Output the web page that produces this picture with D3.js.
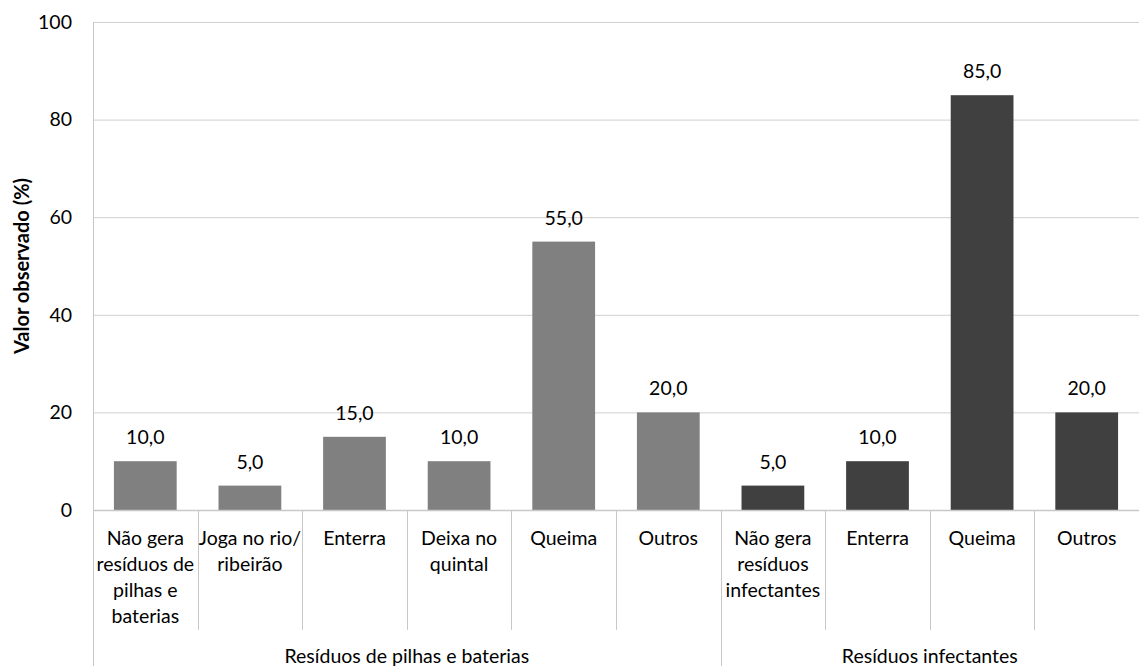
<!DOCTYPE html>
<html><head><meta charset="utf-8">
<script src="https://cdn.jsdelivr.net/npm/d3@7"></script>
<style>body{margin:0;background:#fff}svg{display:block}text{font-family:Lato,Calibri,sans-serif;fill:#000}</style>
</head><body>
<svg id="c" width="1139" height="666"></svg>
<script>
const categories = [
  ["Não gera","resíduos de","pilhas e","baterias"],
  ["Joga no rio/","ribeirão"],
  ["Enterra"],
  ["Deixa no","quintal"],
  ["Queima"],
  ["Outros"],
  ["Não gera","resíduos","infectantes"],
  ["Enterra"],
  ["Queima"],
  ["Outros"]
];
const values = [10,5,15,10,55,20,5,10,85,20];
const groupOf = [0,0,0,0,0,0,1,1,1,1];
const groups = ["Resíduos de pilhas e baterias","Resíduos infectantes"];
const groupColors = ["#808080","#404040"];
const yTicks = [0,20,40,60,80,100];
const yTitle = "Valor observado (%)";

const svg = d3.select("#c");
const L = 93, R = 1139, T = 22, B = 510;
const FS = "19.5px";
const idx = d3.range(values.length);
const x = d3.scaleBand().domain(idx).range([L, R]).paddingInner(0.4).paddingOuter(0.2);
const band = d3.scaleBand().domain(idx).range([L, R]);
const y = d3.scaleLinear().domain([0,100]).range([B, T]);

// gridlines
svg.append("g").selectAll("line").data(yTicks.filter(d=>d>0)).join("line")
  .attr("x1", L).attr("x2", R).attr("y1", d=>y(d)+0.5).attr("y2", d=>y(d)+0.5)
  .attr("stroke", "#d0d0d0").attr("stroke-width", 1);

// y tick labels
svg.append("g").selectAll("text").data(yTicks).join("text")
  .attr("x", 72).attr("y", d=>y(d)).attr("dy","0.35em").attr("text-anchor","end")
  .style("font-size",FS).text(d=>d);

// y title
svg.append("text").attr("transform", `translate(22,${(T+B)/2}) rotate(-90)`)
  .attr("text-anchor","middle").attr("dy","0.35em")
  .style("font-size","20px").style("font-weight","bold").text(yTitle);

// bars
svg.append("g").selectAll("rect").data(idx).join("rect")
  .attr("x", i=>x(i)).attr("width", x.bandwidth())
  .attr("y", i=>y(values[i])).attr("height", i=>B - y(values[i]))
  .attr("fill", i=>groupColors[groupOf[i]]);

// value labels
svg.append("g").selectAll("text").data(idx).join("text")
  .attr("x", i=>x(i)+x.bandwidth()/2).attr("y", i=>y(values[i]) - 17)
  .attr("text-anchor","middle").style("font-size",FS)
  .text(i=>d3.format(".1f")(values[i]).replace(".",","));

// axes lines
const axisColor = "#c8c8c8";
svg.append("line").attr("x1", L).attr("x2", R).attr("y1", B+0.5).attr("y2", B+0.5).attr("stroke", axisColor).attr("stroke-width",1.5);
svg.append("line").attr("x1", L+0.5).attr("x2", L+0.5).attr("y1", T).attr("y2", 666).attr("stroke", axisColor);

// category separators
const seps = d3.range(1, values.length);
svg.append("g").selectAll("line").data(seps).join("line")
  .attr("x1", i=>Math.round(band(i))+0.5).attr("x2", i=>Math.round(band(i))+0.5)
  .attr("y1", B).attr("y2", i=> groupOf[i] !== groupOf[i-1] ? 666 : 630)
  .attr("stroke", axisColor);

// category labels
const cl = svg.append("g").selectAll("text").data(idx).join("text")
  .attr("x", i=>band(i)+band.bandwidth()/2).attr("y", 538)
  .attr("text-anchor","middle").style("font-size",FS);
cl.each(function(i){
  const t = d3.select(this);
  categories[i].forEach((s,k)=>{
    t.append("tspan").attr("x", band(i)+band.bandwidth()/2).attr("y", 538 + k*26).attr("dy","0.35em").text(s);
  });
});

// group labels
groups.forEach((g,gi)=>{
  const members = idx.filter(i=>groupOf[i]===gi);
  const x0 = band(members[0]), x1 = band(members[members.length-1]) + band.bandwidth();
  svg.append("text").attr("x",(x0+x1)/2).attr("y",656).attr("dy","0.35em")
    .attr("text-anchor","middle").style("font-size",FS).text(g);
});
</script>
</body></html>
